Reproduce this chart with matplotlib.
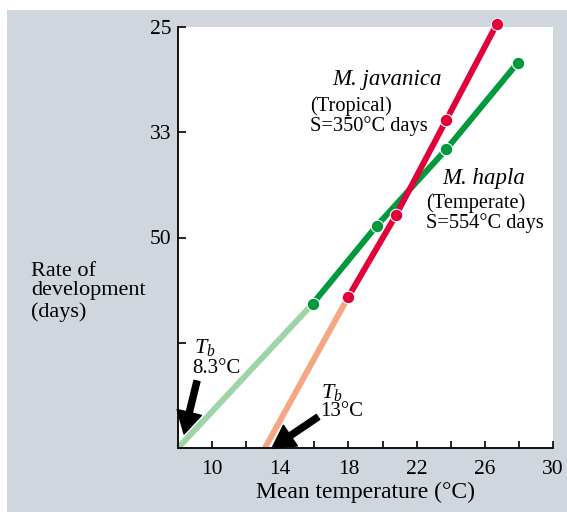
import matplotlib
matplotlib.use("Agg")
import matplotlib.pyplot as plt
from matplotlib.patches import Rectangle

# ---- data ----
jav_temp = [17.97, 20.78, 23.75, 26.71]
jav_rate = [0.0143, 0.0221, 0.0312, 0.0403]
jav_tb = 13.1

hap_temp = [15.9, 19.65, 23.75, 27.93]
hap_rate = [0.0137, 0.0211, 0.0284, 0.0366]
hap_tb = 8.0

x_ticks = [10, 12, 14, 16, 18, 20, 22, 24, 26, 28, 30]
x_ticklabels = ["10", "", "14", "", "18", "", "22", "", "26", "", "30"]
y_ticks = [0.01, 0.02, 0.03, 0.04]
y_ticklabels = ["", "50", "33", "25"]

RED = "#e2003b"
GREEN = "#009a3d"
PALE_GREEN = "#9fd5a6"
PALE_ORANGE = "#f5a783"
GRAY = "#cfd6dd"

plt.rcParams["font.family"] = ["Liberation Serif", "DejaVu Serif"]
plt.rcParams["mathtext.fontset"] = "custom"
plt.rcParams["mathtext.it"] = "Liberation Serif:italic"
plt.rcParams["mathtext.rm"] = "Liberation Serif"

W, H = 567, 512
fig = plt.figure(figsize=(W / 100, H / 100), dpi=100, facecolor="white")


def fp(x, y):
    return (x / W, 1 - y / H)


fig.patches.append(Rectangle(fp(7, 512), (W - 7) / W, (512 - 10) / H,
                             transform=fig.transFigure, facecolor=GRAY,
                             edgecolor="none", zorder=-10))

ax = fig.add_axes([178 / W, (H - 448) / H, (553 - 178) / W, (448 - 27) / H])
ax.set_facecolor("white")
ax.set_xlim(8, 30)
ax.set_ylim(0, 0.04)
for s in ["top", "right"]:
    ax.spines[s].set_visible(False)
for s in ["left", "bottom"]:
    ax.spines[s].set_linewidth(1.4)
    ax.spines[s].set_color("#111111")

ax.set_xticks(x_ticks)
ax.set_xticklabels(x_ticklabels)
ax.set_yticks(y_ticks)
ax.set_yticklabels(y_ticklabels)
ax.tick_params(axis="x", direction="in", length=5, width=1.2, pad=9, labelsize=15.5)
ax.tick_params(axis="y", direction="in", length=6, width=1.2, pad=5, labelsize=15.5)
ax.set_xlabel("Mean temperature (°C)", fontsize=17, labelpad=2)

lw = 4.3
# pale extrapolation segments
ax.plot([hap_tb, hap_temp[0]], [0, hap_rate[0]], color=PALE_GREEN, lw=lw,
        solid_capstyle="butt", clip_on=False, zorder=2)
ax.plot([jav_tb, jav_temp[0]], [0, jav_rate[0]], color=PALE_ORANGE, lw=lw,
        solid_capstyle="butt", clip_on=False, zorder=2)
# measured lines
ax.plot(hap_temp, hap_rate, color=GREEN, lw=lw, marker="o", ms=9,
        mec="white", mew=0.8, clip_on=False, zorder=3)
ax.plot(jav_temp, jav_rate, color=RED, lw=lw, marker="o", ms=9,
        mec="white", mew=0.8, clip_on=False, zorder=4)

# labels
fig.text(*fp(332, 85), "M. javanica", fontsize=16.5, style="italic", ha="left", va="baseline")
fig.text(*fp(310, 111), "(Tropical)", fontsize=14.7, ha="left", va="baseline")
fig.text(*fp(310, 131), "S=350°C days", fontsize=14.7, ha="left", va="baseline")

fig.text(*fp(442, 184), "M. hapla", fontsize=16.5, style="italic", ha="left", va="baseline")
fig.text(*fp(426, 208), "(Temperate)", fontsize=14.7, ha="left", va="baseline")
fig.text(*fp(426, 228), "S=554°C days", fontsize=14.7, ha="left", va="baseline")

fig.text(*fp(194, 353), "$T_b$", fontsize=16, ha="left", va="baseline")
fig.text(*fp(192, 373), "8.3°C", fontsize=15, ha="left", va="baseline")
fig.text(*fp(321, 398), "$T_b$", fontsize=16, ha="left", va="baseline")
fig.text(*fp(320, 416), "13°C", fontsize=15, ha="left", va="baseline")

for (x0, y0), (x1, y1) in [((197, 381), (184, 434)), ((318, 417), (272, 448))]:
    ax.annotate("", xy=fp(x1, y1), xycoords="figure fraction",
                xytext=fp(x0, y0), textcoords="figure fraction",
                arrowprops=dict(arrowstyle="simple,head_length=0.8,head_width=0.9,tail_width=0.22",
                                color="black", mutation_scale=20, shrinkA=0, shrinkB=0),
                annotation_clip=False)

fig.text(*fp(31, 276), "Rate of", fontsize=16, ha="left", va="baseline")
fig.text(*fp(31, 295), "development", fontsize=16, ha="left", va="baseline")
fig.text(*fp(31, 317), "(days)", fontsize=16, ha="left", va="baseline")

fig.savefig("out.png", dpi=100, facecolor="white")
